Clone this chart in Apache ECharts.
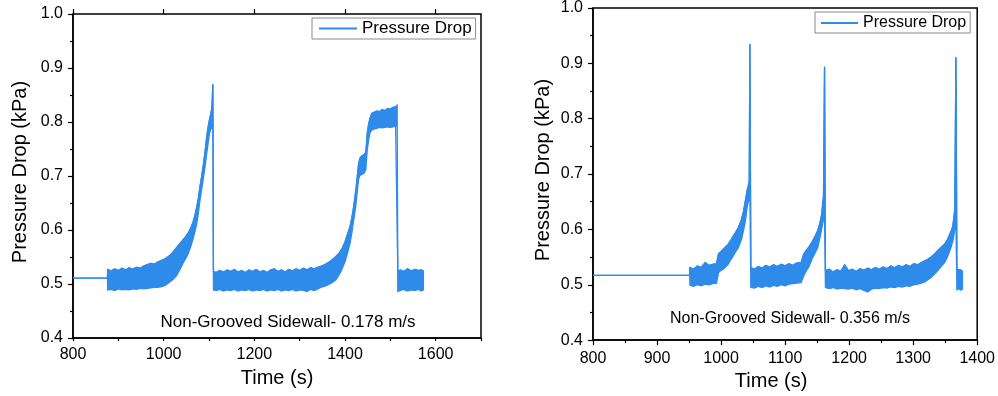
<!DOCTYPE html>
<html>
<head>
<meta charset="utf-8">
<script src="https://cdn.jsdelivr.net/npm/echarts@6/dist/echarts.min.js"></script>
<style>
  html, body { margin: 0; padding: 0; background: #fff; }
  #chart { width: 998px; height: 396px; }
</style>
</head>
<body>
<div id="chart"></div>
<script>
// left panel: 0.178 m/s  (time, upper edge of the noise band, lower edge)
const timeL = [800, 876, 876.5, 884, 892, 900, 908, 916, 924, 932, 940, 948, 956, 964, 972, 980, 988, 996, 1004, 1012,
  1020, 1028, 1036, 1043, 1049, 1054, 1060, 1065, 1069, 1073, 1077, 1080, 1084, 1088, 1092, 1095, 1098, 1101, 1104, 1106.5,
  1108.5, 1109.8, 1116, 1124, 1132, 1140, 1148, 1156, 1164, 1172, 1180, 1188, 1196, 1204, 1212, 1220, 1228, 1236, 1244, 1252,
  1260, 1268, 1276, 1284, 1292, 1300, 1308, 1316, 1324, 1332, 1340, 1348, 1356, 1364, 1372, 1380, 1388, 1394, 1400, 1405,
  1411, 1415, 1418, 1421, 1424, 1427, 1430, 1433, 1437, 1442, 1446, 1449, 1452, 1455, 1459, 1464, 1470, 1476, 1482, 1488,
  1494, 1500, 1506, 1511, 1515, 1516.5, 1522, 1530, 1538, 1546, 1554, 1562, 1568, 1573];
const upperL = [0.511, 0.511, 0.527, 0.524, 0.528, 0.525, 0.529, 0.526, 0.530, 0.527, 0.531, 0.529, 0.533, 0.536, 0.538, 0.537, 0.541, 0.544, 0.547, 0.552,
  0.558, 0.567, 0.575, 0.582, 0.588, 0.594, 0.604, 0.615, 0.627, 0.643, 0.660, 0.680, 0.700, 0.723, 0.750, 0.773, 0.790, 0.804, 0.815, 0.826,
  0.870, 0.523, 0.521, 0.525, 0.522, 0.526, 0.523, 0.527, 0.522, 0.525, 0.521, 0.526, 0.523, 0.527, 0.522, 0.525, 0.521, 0.526, 0.528, 0.523,
  0.526, 0.522, 0.527, 0.524, 0.528, 0.525, 0.529, 0.526, 0.530, 0.528, 0.531, 0.533, 0.536, 0.540, 0.545, 0.551, 0.558, 0.566, 0.578, 0.591,
  0.606, 0.622, 0.637, 0.655, 0.674, 0.698, 0.722, 0.733, 0.737, 0.739, 0.744, 0.778, 0.795, 0.806, 0.816, 0.818, 0.820, 0.819, 0.823, 0.821,
  0.825, 0.824, 0.827, 0.828, 0.831, 0.523, 0.526, 0.523, 0.528, 0.524, 0.527, 0.525, 0.526, 0.524];
const lowerL = [0.511, 0.511, 0.489, 0.490, 0.488, 0.491, 0.489, 0.490, 0.489, 0.491, 0.490, 0.492, 0.491, 0.492, 0.493, 0.494, 0.494, 0.495, 0.498, 0.503,
  0.508, 0.515, 0.527, 0.539, 0.548, 0.556, 0.570, 0.584, 0.597, 0.612, 0.634, 0.655, 0.676, 0.698, 0.722, 0.742, 0.760, 0.779, 0.786, 0.791,
  0.805, 0.489, 0.488, 0.490, 0.487, 0.489, 0.488, 0.490, 0.487, 0.489, 0.488, 0.490, 0.487, 0.489, 0.488, 0.490, 0.487, 0.489, 0.488, 0.490,
  0.487, 0.489, 0.488, 0.490, 0.487, 0.489, 0.488, 0.486, 0.490, 0.488, 0.491, 0.494, 0.496, 0.499, 0.503, 0.508, 0.518, 0.529, 0.541, 0.556,
  0.575, 0.594, 0.612, 0.628, 0.646, 0.670, 0.694, 0.701, 0.703, 0.705, 0.712, 0.748, 0.766, 0.780, 0.785, 0.787, 0.788, 0.790, 0.789, 0.790,
  0.791, 0.790, 0.791, 0.792, 0.793, 0.486, 0.488, 0.490, 0.487, 0.489, 0.488, 0.490, 0.487, 0.489];

// right panel: 0.356 m/s
const timeR = [800, 951, 951.5, 957, 963, 969, 975, 981, 987, 993, 996, 1000, 1005, 1011, 1015, 1019, 1023, 1027, 1032, 1035,
  1038, 1041, 1044, 1045, 1046.5, 1052, 1058, 1064, 1070, 1076, 1082, 1088, 1094, 1100, 1106, 1112, 1118, 1125, 1129, 1133,
  1137, 1143, 1147, 1151, 1154, 1157, 1160, 1161.6, 1163, 1169, 1175, 1181, 1187, 1193, 1199, 1205, 1211, 1217, 1223, 1229,
  1235, 1241, 1247, 1253, 1259, 1265, 1271, 1277, 1283, 1289, 1295, 1301, 1307, 1313, 1318, 1323, 1328, 1333, 1338, 1343,
  1349, 1353, 1356, 1359, 1362, 1365, 1366.8, 1368.3, 1371, 1374, 1377];
const upperR = [0.517, 0.517, 0.531, 0.528, 0.534, 0.531, 0.540, 0.535, 0.537, 0.538, 0.556, 0.560, 0.566, 0.573, 0.580, 0.588, 0.595, 0.603, 0.618, 0.632,
  0.652, 0.672, 0.686, 0.935, 0.531, 0.528, 0.533, 0.530, 0.535, 0.532, 0.536, 0.533, 0.537, 0.534, 0.538, 0.535, 0.539, 0.540, 0.555, 0.562,
  0.568, 0.579, 0.588, 0.598, 0.610, 0.626, 0.660, 0.894, 0.525, 0.528, 0.523, 0.527, 0.524, 0.536, 0.525, 0.528, 0.524, 0.529, 0.526, 0.530,
  0.527, 0.531, 0.528, 0.532, 0.529, 0.534, 0.530, 0.535, 0.532, 0.536, 0.533, 0.538, 0.536, 0.540, 0.543, 0.546, 0.550, 0.555, 0.561, 0.567,
  0.573, 0.580, 0.588, 0.596, 0.606, 0.636, 0.911, 0.528, 0.525, 0.527, 0.524];
const lowerR = [0.517, 0.517, 0.499, 0.497, 0.500, 0.498, 0.501, 0.500, 0.502, 0.503, 0.522, 0.526, 0.530, 0.537, 0.545, 0.552, 0.560, 0.567, 0.582, 0.598,
  0.615, 0.642, 0.657, 0.665, 0.495, 0.494, 0.497, 0.495, 0.498, 0.496, 0.499, 0.497, 0.500, 0.498, 0.501, 0.502, 0.503, 0.504, 0.516, 0.525,
  0.532, 0.549, 0.558, 0.567, 0.583, 0.600, 0.618, 0.625, 0.495, 0.493, 0.495, 0.492, 0.494, 0.493, 0.492, 0.494, 0.491, 0.493, 0.490, 0.487,
  0.492, 0.494, 0.493, 0.495, 0.494, 0.496, 0.495, 0.497, 0.496, 0.498, 0.497, 0.500, 0.501, 0.503, 0.505, 0.509, 0.513, 0.519, 0.525, 0.532,
  0.540, 0.549, 0.558, 0.567, 0.579, 0.600, 0.610, 0.491, 0.493, 0.490, 0.492];

const xTicksL = [800, 1000, 1200, 1400, 1600];
const xTicksR = [800, 900, 1000, 1100, 1200, 1300, 1400];
const noteL = 'Non-Grooved Sidewall- 0.178 m/s';
const noteR = 'Non-Grooved Sidewall- 0.356 m/s';

const FONT = "'Liberation Sans', Arial, sans-serif";
const BLUE = '#2f8be9';
const INK = '#000';

const chart = echarts.init(document.getElementById('chart'));

function yAxisFor(grid, gap) {
  return {
    type: 'value', gridIndex: grid, min: 0.4, max: 1.0, interval: 0.1,
    name: 'Pressure Drop (kPa)', nameLocation: 'middle', nameGap: gap,
    nameTextStyle: { fontSize: 20, color: INK, fontFamily: FONT, padding: [0, 0, 0, 8] },
    axisLine: { show: true, lineStyle: { color: INK, width: 1.5 } },
    axisTick: { show: true, inside: false, length: 5, lineStyle: { color: INK, width: 1.2 } },
    minorTick: { show: true, splitNumber: 2, length: 3, lineStyle: { color: INK, width: 1.2 } },
    axisLabel: { fontSize: 16, color: INK, fontFamily: FONT, margin: 10, formatter: (v) => v.toFixed(1) },
    splitLine: { show: false }
  };
}

// noise band as one filled polygon: upper edge forward, lower edge back
function band(idx, t, hi, lo) {
  return {
    type: 'custom', name: 'band' + idx, xAxisIndex: idx === 0 ? 0 : 2, yAxisIndex: idx,
    silent: true, z: 2, data: [[t[0], hi[0]]],
    renderItem: function (params, api) {
      const pts = [];
      for (let i = 0; i < t.length; i++) pts.push(api.coord([t[i], hi[i]]));
      for (let i = t.length - 1; i >= 0; i--) pts.push(api.coord([t[i], lo[i]]));
      return { type: 'polygon', shape: { points: pts }, style: { fill: BLUE, stroke: BLUE, lineWidth: 1.3 } };
    }
  };
}

chart.setOption({
  animation: false,
  backgroundColor: '#fff',
  textStyle: { fontFamily: FONT },
  grid: [
    { left: 73, top: 14, width: 408, height: 324, show: true, borderColor: INK, borderWidth: 1.5, backgroundColor: 'transparent' },
    { left: 593, top: 8, width: 385, height: 333, show: true, borderColor: INK, borderWidth: 1.5, backgroundColor: 'transparent' }
  ],
  xAxis: [
    {
      type: 'value', gridIndex: 0, min: 800, max: 1700, interval: 100,
      name: 'Time (s)', nameLocation: 'middle', nameGap: 30,
      nameTextStyle: { fontSize: 20, color: INK, fontFamily: FONT },
      axisLine: { show: true, lineStyle: { color: INK, width: 1.5 } },
      axisTick: { show: true, inside: false, length: 3, lineStyle: { color: INK, width: 1.2 } },
      axisLabel: { fontSize: 16, color: INK, fontFamily: FONT, margin: 9,
        formatter: (v) => (xTicksL.includes(v) ? String(v) : '') },
      splitLine: { show: false }
    },
    {
      // longer ticks at the labelled values
      type: 'value', gridIndex: 0, min: 800, max: 1700, interval: 200,
      axisLine: { show: false },
      axisTick: { show: true, inside: false, length: 5, customValues: xTicksL, lineStyle: { color: INK, width: 1.2 } },
      axisLabel: { show: false },
      splitLine: { show: false }
    },
    {
      type: 'value', gridIndex: 1, min: 800, max: 1400, interval: 100,
      name: 'Time (s)', nameLocation: 'middle', nameGap: 29,
      nameTextStyle: { fontSize: 20, color: INK, fontFamily: FONT, padding: [0, 28, 0, 0] },
      axisLine: { show: true, lineStyle: { color: INK, width: 1.5 } },
      axisTick: { show: true, inside: false, length: 5, lineStyle: { color: INK, width: 1.2 } },
      minorTick: { show: true, splitNumber: 2, length: 3, lineStyle: { color: INK, width: 1.2 } },
      axisLabel: { fontSize: 16, color: INK, fontFamily: FONT, margin: 10,
        formatter: (v) => (xTicksR.includes(v) ? String(v) : '') },
      splitLine: { show: false }
    }
  ],
  yAxis: [yAxisFor(0, 43), yAxisFor(1, 40)],
  legend: [
    {
      left: 312, top: 18, orient: 'horizontal', selectedMode: false,
      data: [{ name: 'Pressure Drop', icon: 'rect' }], padding: [2, 4, 2, 7], itemWidth: 38, itemHeight: 2,
      borderColor: '#8a8a8a', borderWidth: 1, backgroundColor: '#fff',
      textStyle: { fontSize: 17, color: INK, fontFamily: FONT }
    },
    {
      left: 815, top: 12, orient: 'horizontal', selectedMode: false,
      data: [{ name: 'Pressure Drop', icon: 'rect' }], padding: [3, 4, 2, 6], itemWidth: 37, itemHeight: 2,
      borderColor: '#8a8a8a', borderWidth: 1, backgroundColor: '#fff',
      textStyle: { fontSize: 16, color: INK, fontFamily: FONT }
    }
  ],
  graphic: [
    { type: 'text', x: 288, y: 322, style: { text: noteL, font: '17px ' + FONT, fill: INK, align: 'center', verticalAlign: 'middle' } },
    { type: 'text', x: 790, y: 319, style: { text: noteR, font: '16px ' + FONT, fill: INK, align: 'center', verticalAlign: 'middle' } }
  ],
  series: [
    {
      type: 'line', name: 'Pressure Drop', xAxisIndex: 0, yAxisIndex: 0, z: 3, silent: true,
      symbol: 'none', showSymbol: false,
      data: timeL.map((t, i) => [t, upperL[i]]),
      lineStyle: { color: BLUE, width: 1.3 }, itemStyle: { color: BLUE }
    },
    {
      type: 'line', name: 'Pressure Drop', xAxisIndex: 2, yAxisIndex: 1, z: 3, silent: true,
      symbol: 'none', showSymbol: false,
      data: timeR.map((t, i) => [t, upperR[i]]),
      lineStyle: { color: BLUE, width: 1.3 }, itemStyle: { color: BLUE }
    },
    band(0, timeL, upperL, lowerL),
    band(1, timeR, upperR, lowerR)
  ]
});
</script>
</body>
</html>
